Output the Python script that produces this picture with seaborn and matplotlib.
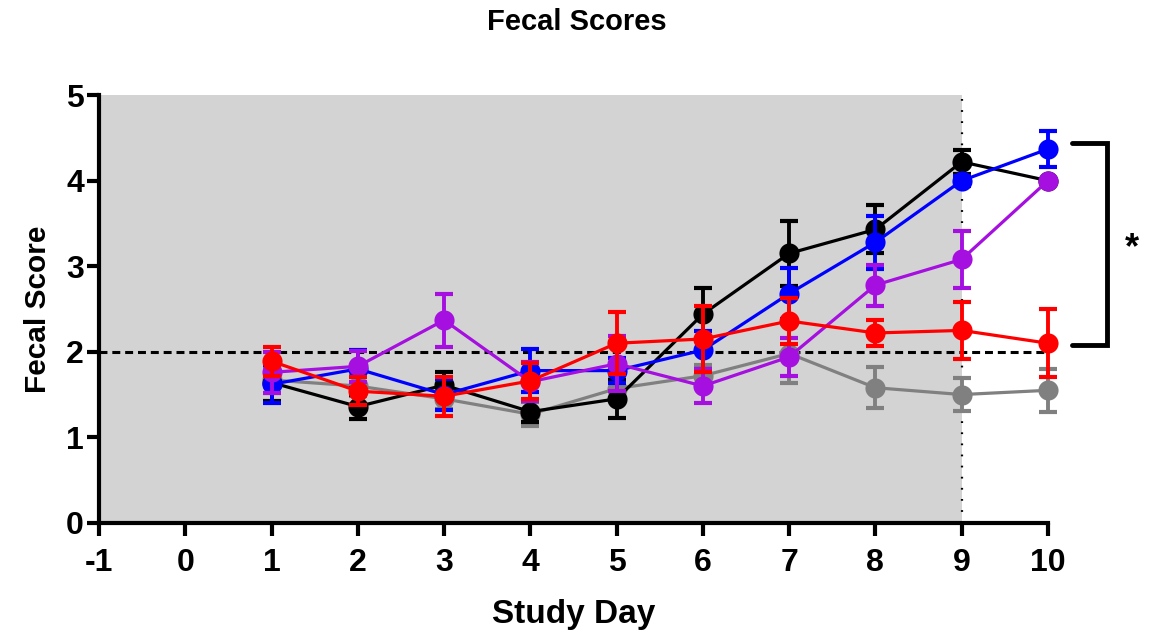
import numpy as np
import pandas as pd
import matplotlib
matplotlib.use("Agg")
import matplotlib.pyplot as plt
import seaborn as sns

# ---- data ----
days = [1, 2, 3, 4, 5, 6, 7, 8, 9, 10]
groups = ["Gray", "Black", "Blue", "Purple", "Red"]
colors = {"Gray": "#808080", "Black": "#000000", "Blue": "#0000FF",
          "Purple": "#A50FDF", "Red": "#FF0000"}

gray_mean = [1.67, 1.60, 1.45, 1.27, 1.57, 1.72, 1.98, 1.58, 1.50, 1.55]
gray_sem = [0.15, 0.12, 0.12, 0.14, 0.12, 0.12, 0.35, 0.24, 0.19, 0.25]
black_mean = [1.64, 1.36, 1.61, 1.30, 1.45, 2.44, 3.15, 3.43, 4.22, 4.00]
black_sem = [0.21, 0.14, 0.15, 0.12, 0.22, 0.31, 0.38, 0.28, 0.14, np.nan]
blue_mean = [1.62, 1.80, 1.50, 1.78, 1.78, 2.02, 2.68, 3.28, 4.00, 4.37]
blue_sem = [0.22, 0.22, 0.18, 0.25, 0.15, 0.22, 0.30, 0.31, 0.06, 0.21]
purple_mean = [1.76, 1.83, 2.37, 1.65, 1.86, 1.60, 1.94, 2.78, 3.08, 4.00]
purple_sem = [0.24, 0.18, 0.31, 0.23, 0.32, 0.20, 0.22, 0.24, 0.33, np.nan]
red_mean = [1.89, 1.54, 1.48, 1.66, 2.10, 2.15, 2.36, 2.22, 2.25, 2.10]
red_sem = [0.17, 0.16, 0.23, 0.21, 0.36, 0.39, 0.27, 0.15, 0.33, 0.40]

means = {"Gray": gray_mean, "Black": black_mean, "Blue": blue_mean,
         "Purple": purple_mean, "Red": red_mean}
sems = {"Gray": gray_sem, "Black": black_sem, "Blue": blue_sem,
        "Purple": purple_sem, "Red": red_sem}

x_ticks = [-1, 0, 1, 2, 3, 4, 5, 6, 7, 8, 9, 10]
y_ticks = [0, 1, 2, 3, 4, 5]

df = pd.concat([pd.DataFrame({"Study Day": days, "Fecal Score": means[g],
                              "SEM": sems[g], "Group": g}) for g in groups],
               ignore_index=True)

# ---- style ----
sns.set_theme(style="ticks")
plt.rcParams["font.family"] = ["Liberation Sans", "DejaVu Sans"]
plt.rcParams["font.weight"] = "bold"
plt.rcParams["text.color"] = "black"
plt.rcParams["axes.labelcolor"] = "black"
plt.rcParams["xtick.color"] = "black"
plt.rcParams["ytick.color"] = "black"

fig = plt.figure(figsize=(11.53, 6.30), dpi=100)
ax = fig.add_axes([0.0859, 0.170, 0.823, 0.679])

ax.axvspan(-1, 9, color="#D3D3D3", zorder=0, lw=0)
ax.axhline(2, color="black", lw=2.2, linestyle=(0, (2.6, 1.6)), zorder=1)
ax.axvline(9, color="black", lw=1.6, linestyle=(0, (0.8, 4.2)), zorder=1)

for z, g in enumerate(groups):
    sub = df[df["Group"] == g]
    sns.lineplot(data=sub, x="Study Day", y="Fecal Score", color=colors[g],
                 marker="o", markersize=14.5, markeredgewidth=0, linewidth=2.3,
                 errorbar=None, ax=ax, zorder=3 + z, clip_on=False, legend=False)
    ax.errorbar(sub["Study Day"], sub["Fecal Score"], yerr=sub["SEM"],
                fmt="none", ecolor=colors[g], elinewidth=2.8, capsize=6.8,
                capthick=3.0, zorder=3 + z, clip_on=False)

ax.set_xlim(-1, 10)
ax.set_ylim(0, 5)
ax.set_xticks(x_ticks)
ax.set_yticks(y_ticks)
ax.set_xticklabels([str(t) for t in x_ticks])
ax.set_yticklabels([str(t) for t in y_ticks])
ax.tick_params(axis="both", labelsize=23, width=3, length=9, direction="out",
               colors="black")
ax.tick_params(axis="x", pad=9)
ax.tick_params(axis="y", pad=2)
for lab in ax.get_xticklabels() + ax.get_yticklabels():
    lab.set_fontweight("bold")
for s in ["top", "right"]:
    ax.spines[s].set_visible(False)
for s in ["left", "bottom"]:
    ax.spines[s].set_linewidth(3)
    ax.spines[s].set_color("black")

ax.set_xlabel("Study Day", fontsize=24, fontweight="bold", labelpad=15)
ax.set_ylabel("Fecal Score", fontsize=21.5, fontweight="bold", labelpad=10)
fig.suptitle("Fecal Scores", fontsize=21, fontweight="bold", y=0.988)

# significance bracket
ax.plot([10.28, 10.68, 10.68, 10.28], [4.44, 4.44, 2.08, 2.08], color="black",
        lw=3.5, clip_on=False, solid_joinstyle="miter")
ax.text(10.97, 3.20, "*", fontsize=26, fontweight="bold", ha="center",
        va="center", clip_on=False)

fig.savefig("out.png", dpi=100)
